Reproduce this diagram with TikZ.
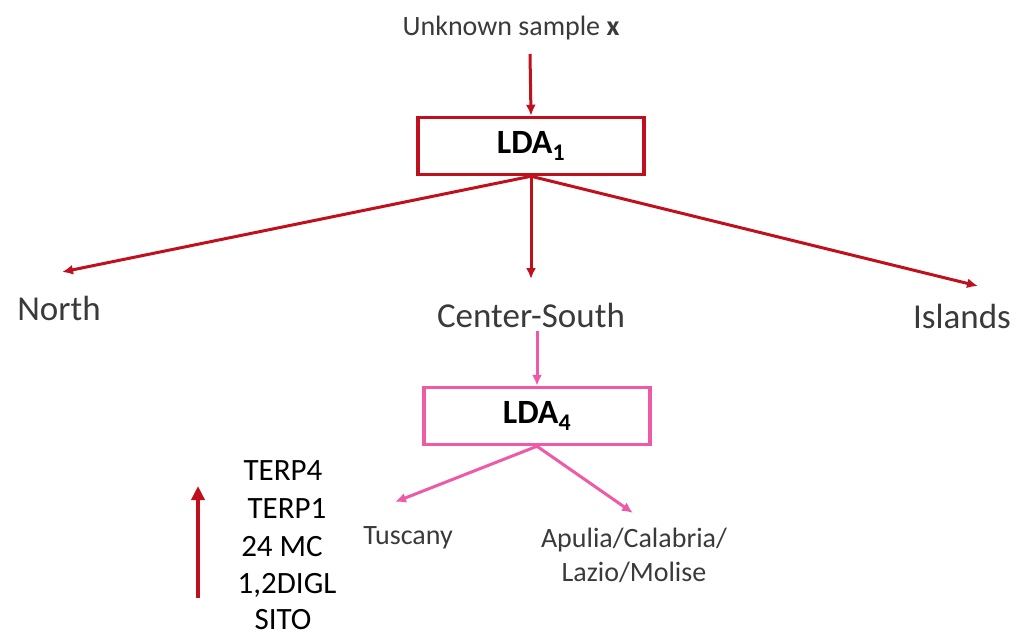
\documentclass[tikz,border=0pt]{standalone}
\usepackage{fontspec}
\setmainfont{Carlito}
\usetikzlibrary{arrows.meta}
\definecolor{ldared}{HTML}{C0101E}
\definecolor{ldapink}{HTML}{EE5AA8}
\definecolor{txtgray}{HTML}{3A3A3A}
\tikzset{
  redline/.style={draw=ldared, line width=3pt, -{Latex[length=11pt,width=10pt]}},
  pinkline/.style={draw=ldapink, line width=3pt, -{Latex[length=11pt,width=10pt]}},
  ldabox/.style={rectangle, line width=3.5pt, minimum width=226pt, minimum height=57pt,
    font=\fontsize{34}{40}\selectfont\bfseries, inner sep=0pt},
  region/.style={font=\fontsize{35}{40}\selectfont, text=txtgray, inner sep=0pt},
  small/.style={font=\fontsize{28}{34}\selectfont, text=txtgray, inner sep=0pt},
  marker/.style={font=\fontsize{31}{36}\selectfont, inner sep=0pt}
}
\begin{document}
\begin{tikzpicture}[x=1pt,y=-1pt]
\useasboundingbox (0,0) rectangle (1016,637);

% top input
\node[small] (x) at (511,28) {Unknown sample \textbf{x}};
\coordinate (xa) at (530,54);
\node[ldabox, draw=ldared] (lda1) at (531,146) {LDA\textsubscript{1}};
\draw[redline] (xa) -- (lda1.north);

% first level regions
\node[region] (north) at (59,308) {North};
\node[region] (cs) at (531,315) {Center-South};
\node[region] (isl) at (962,316) {Islands};
\coordinate (na) at (62,272);
\coordinate (ca) at (531,279);
\coordinate (ia) at (978,286);
\draw[redline] (lda1.south) -- (na);
\draw[redline] (lda1.south) -- (ca);
\draw[redline] (lda1.south) -- (ia);

% second level
\coordinate (csa) at (537,331);
\node[ldabox, draw=ldapink] (lda4) at (537,416) {LDA\textsubscript{4}};
\draw[pinkline] (csa) -- (lda4.north);
\node[small] (tus) at (408,538) {Tuscany};
\node[small, align=center] (apu) at (634,555) {Apulia/Calabria/\\Lazio/Molise};
\coordinate (ta) at (395,502);
\coordinate (aa) at (633,513);
\draw[pinkline] (lda4.south) -- (ta);
\draw[pinkline] (lda4.south) -- (aa);

% variable ranking
\node[marker] (v1) at (283,471) {TERP4};
\node[marker] (v2) at (287,509) {TERP1};
\node[marker] (v3) at (282,547) {24 MC};
\node[marker] (v4) at (287,585) {1,2DIGL};
\node[marker] (v5) at (283,620) {SITO};
\coordinate (rb) at (198,598);
\coordinate (rt) at (198,486);
\draw[draw=ldared, line width=4.5pt, -{Triangle[length=14pt,width=13pt]}] (rb) -- (rt);
\end{tikzpicture}
\end{document}
